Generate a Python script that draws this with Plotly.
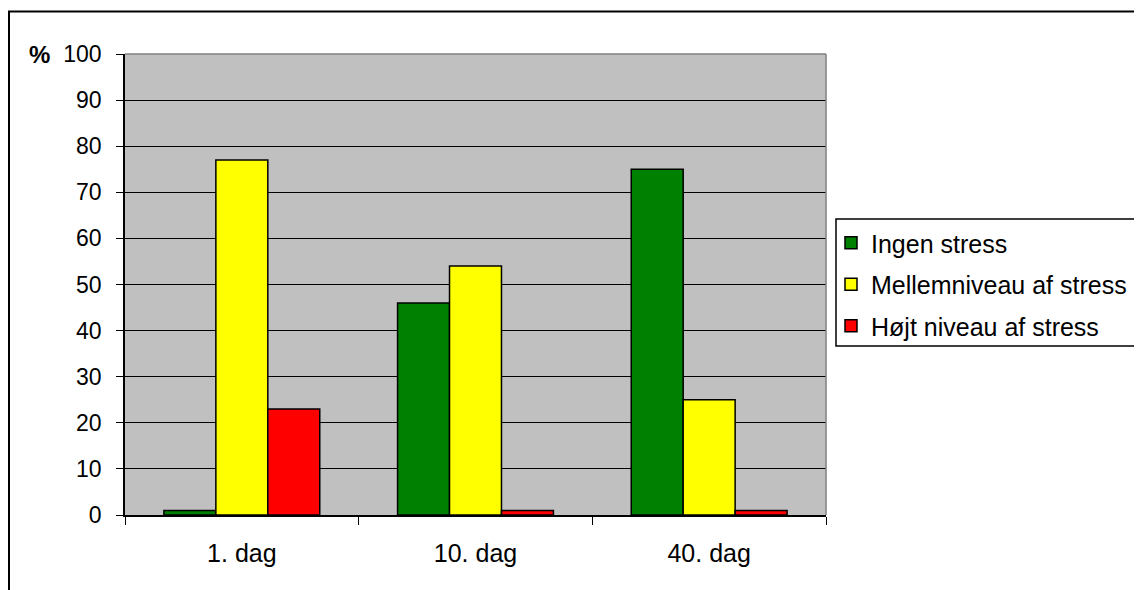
import plotly.graph_objects as go

categories = ["1. dag", "10. dag", "40. dag"]
series_names = ["Ingen stress", "Mellemniveau af stress", "Højt niveau af stress"]
ingen = [1, 46, 75]
mellem = [77, 54, 25]
hojt = [23, 1, 1]
series_values = [ingen, mellem, hojt]
colors = ["#008000", "#FFFF00", "#FF0000"]
y_ticks = list(range(0, 101, 10))

# figure is offset by the 8px page margin
OFF = 8
W, H = 1142 - OFF, 590 - OFF
L, R, T, B = 125 - OFF, 1142 - 826, 54 - OFF, 590 - 515
pw, ph = W - L - R, H - T - B


def px_x(p):  # page pixel -> paper
    return (p - OFF - L) / pw


def px_y(p):
    return (H - B - (p - OFF)) / ph


fig = go.Figure()
for i, (name, vals, col) in enumerate(zip(series_names, series_values, colors)):
    fig.add_trace(go.Bar(
        x=categories, y=vals, name=name, legendgroup=f"g{i}",
        marker=dict(color=col, line=dict(color="black", width=1.5)),
    ))

fam = "Liberation Sans, Arial, sans-serif"
font_y = dict(family=fam, size=23, color="black")
font_x = dict(family=fam, size=25, color="black")
font_leg = dict(family=fam, size=25, color="black")

fig.update_layout(
    width=W, height=H,
    margin=dict(l=L, r=R, t=T, b=B, autoexpand=False),
    paper_bgcolor="white", plot_bgcolor="#C0C0C0",
    font=font_y,
    barmode="group", bargap=0.333, bargroupgap=0,
    showlegend=True,
    legend=dict(
        x=px_x(831), xanchor="left", y=px_y(220), yanchor="top",
        bgcolor="rgba(0,0,0,0)", borderwidth=0,
        font=font_leg, traceorder="grouped", tracegroupgap=6,
    ),
    xaxis=dict(
        type="category", tickson="boundaries", ticks="outside", ticklen=8,
        tickcolor="black", tickwidth=1, showline=True, linecolor="black",
        linewidth=1.5, showgrid=False, ticklabelstandoff=15,
        tickfont=font_x,
    ),
    yaxis=dict(
        range=[0, 100], tickvals=y_ticks, ticks="outside", ticklen=7,
        tickcolor="black", tickwidth=1, showline=True, linecolor="black",
        linewidth=1.5, showgrid=True, gridcolor="black", gridwidth=1,
        zeroline=False, ticklabelstandoff=10, tickfont=font_y,
    ),
    shapes=[
        # outer chart border
        dict(type="rect", xref="paper", yref="paper",
             x0=px_x(9), x1=px_x(1170), y0=px_y(620), y1=px_y(11.5),
             line=dict(color="black", width=2), fillcolor="rgba(0,0,0,0)",
             layer="below"),
        # legend box
        dict(type="rect", xref="paper", yref="paper",
             x0=px_x(836), x1=px_x(1170), y0=px_y(346), y1=px_y(219),
             line=dict(color="black", width=1.5), fillcolor="white",
             layer="below"),
        # plot area top & right border (gray)
        dict(type="line", xref="paper", yref="paper", x0=0, x1=1, y0=1, y1=1,
             line=dict(color="#808080", width=1.5), layer="above"),
        dict(type="line", xref="paper", yref="paper", x0=1, x1=1, y0=0, y1=1,
             line=dict(color="#808080", width=1.5), layer="above"),
    ],
    annotations=[
        dict(text="<b>%</b>", xref="paper", yref="paper", x=px_x(39), y=1,
             xanchor="center", yanchor="middle", showarrow=False,
             font=dict(family=fam, size=24, color="black")),
    ],
)

fig.write_html("out.html")
